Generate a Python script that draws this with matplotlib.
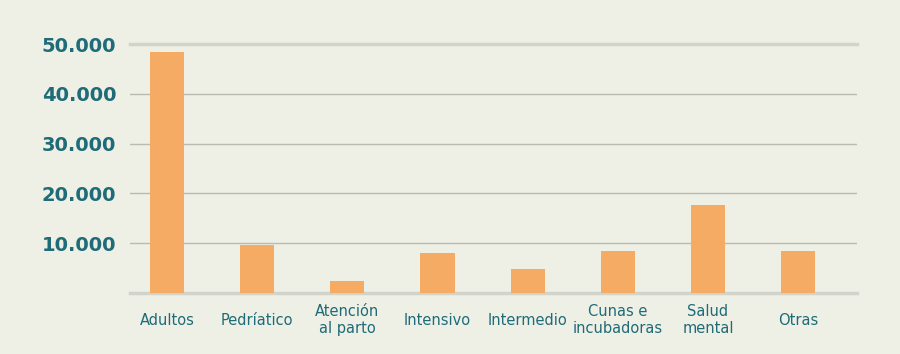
import matplotlib.pyplot as plt

categories = ["Adultos", "Pedríatico", "Atención\nal parto", "Intensivo",
              "Intermedio", "Cunas e\nincubadoras", "Salud\nmental", "Otras"]
values = [48400, 9700, 2400, 8000, 4800, 8400, 17700, 8400]
yticks = [10000, 20000, 30000, 40000, 50000]
ytick_labels = ["10.000", "20.000", "30.000", "40.000", "50.000"]

bg = "#eef0e6"
teal = "#1f6b78"
orange = "#f6ab65"

fig = plt.figure(figsize=(9, 3.54), dpi=100, facecolor=bg)
ax = fig.add_axes([0.1444, 0.1723, 0.8076, 0.7034], facecolor=bg)

x = range(len(categories))
ax.bar(x, values, width=0.38, color=orange, zorder=3)

# grid lines
for t in yticks[:-1]:
    ax.axhline(t, color="#b8bbb2", lw=1.0, zorder=1)
ax.axhline(0, color="#d2d4cb", lw=2.5, zorder=2, clip_on=False)
ax.axhline(50000, color="#d2d4cb", lw=2.5, zorder=2, clip_on=False)

ax.set_xlim(-0.41, 7.65)
ax.set_ylim(0, 50000)
ax.set_yticks(yticks)
ax.set_yticklabels(ytick_labels, fontsize=14, fontweight="bold", color=teal,
                   family="DejaVu Sans")
ax.set_xticks(list(x))
ax.set_xticklabels(categories, fontsize=10.5, color=teal, family="DejaVu Sans",
                   linespacing=1.2)
for lbl in ax.get_xticklabels():
    lbl.set_va("center")
    lbl.set_multialignment("center")
ax.tick_params(axis="y", length=0, pad=10)
ax.tick_params(axis="x", length=0, pad=19.5)
for s in ax.spines.values():
    s.set_visible(False)

fig.savefig("out.png", dpi=100, facecolor=bg)
